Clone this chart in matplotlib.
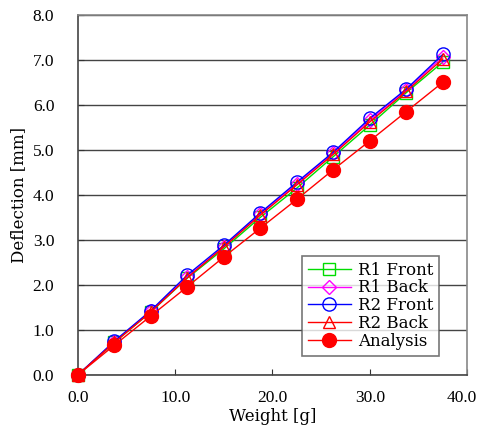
import matplotlib.pyplot as plt
import matplotlib.transforms as mtransforms
import numpy as np

plt.rcParams['font.family'] = ['DejaVu Serif']

weight = [0.0, 3.75, 7.5, 11.25, 15.0, 18.75, 22.5, 26.25, 30.0, 33.75, 37.5]

r1_front = [0.0, 0.72, 1.40, 2.15, 2.80, 3.50, 4.15, 4.85, 5.55, 6.27, 6.95]
r1_back = [0.0, 0.73, 1.42, 2.18, 2.85, 3.58, 4.25, 4.93, 5.66, 6.33, 7.07]
r2_front = [0.0, 0.75, 1.43, 2.22, 2.88, 3.60, 4.28, 4.95, 5.70, 6.35, 7.12]
r2_back = [0.0, 0.72, 1.40, 2.16, 2.84, 3.55, 4.22, 4.90, 5.62, 6.30, 7.02]
analysis = [0.0, 0.66, 1.31, 1.96, 2.62, 3.26, 3.90, 4.56, 5.20, 5.85, 6.50]

x_ticks = [0, 10, 20, 30, 40]
y_ticks = [0, 1, 2, 3, 4, 5, 6, 7, 8]

series = [
  ("R1 Front", r1_front, "s", "#00dd00", 'none', 8.5),
  ("R1 Back", r1_back, "D", "#ff00ff", 'none', 7),
  ("R2 Front", r2_front, "o", "#0000ff", 'none', 9.5),
  ("R2 Back", r2_back, "^", "#ff0000", 'none', 9),
  ("Analysis", analysis, "o", "#ff0000", "#ff0000", 10),
]

fig = plt.figure(figsize=(4.81, 4.25), dpi=100)
ax = fig.add_axes([0.162, 0.118, 0.809, 0.847])

for name, vals, mk, col, fc, ms in series:
  ax.plot(weight, vals, marker=mk, color=col, markerfacecolor=fc,
          markeredgecolor=col, markersize=ms, linewidth=1.0, label=name,
          clip_on=False, zorder=3)

ax.set_xlim(0, 40)
ax.set_ylim(0, 8)
ax.set_xticks(x_ticks)
ax.set_yticks(y_ticks)
ax.set_xticklabels(["%.1f" % v for v in x_ticks], family='Liberation Serif')
ax.set_yticklabels(["%.1f" % v for v in y_ticks], family='Liberation Serif')
ax.tick_params(direction='in', length=4, labelsize=12.5, color='#333333')
ax.tick_params(axis='y', pad=17)
ax.tick_params(axis='x', pad=11)

# keep the last x label inside the canvas
last = ax.get_xticklabels()[-1]
last.set_transform(last.get_transform() +
                   mtransforms.ScaledTranslation(-4 / 72, 0, fig.dpi_scale_trans))

ax.grid(True, axis='y', color='#444444', linewidth=1.0)
ax.set_axisbelow(True)
for sp in ax.spines.values():
  sp.set_color('#888888')
  sp.set_linewidth(1.2)
ax.spines['left'].set_color('#444444')
ax.spines['bottom'].set_color('#444444')

ax.set_xlabel("Weight [g]", fontsize=12, labelpad=1)
ax.set_ylabel("Deflection [mm]", fontsize=12, labelpad=4)

leg = ax.legend(loc='lower right', bbox_to_anchor=(0.928, 0.053), fontsize=12,
                frameon=True, fancybox=False, edgecolor='#555555',
                handlelength=2.6, labelspacing=0.05, borderpad=0.35,
                handletextpad=0.4, borderaxespad=0)
leg.get_frame().set_linewidth(1.2)

plt.savefig('out.png', dpi=100)
